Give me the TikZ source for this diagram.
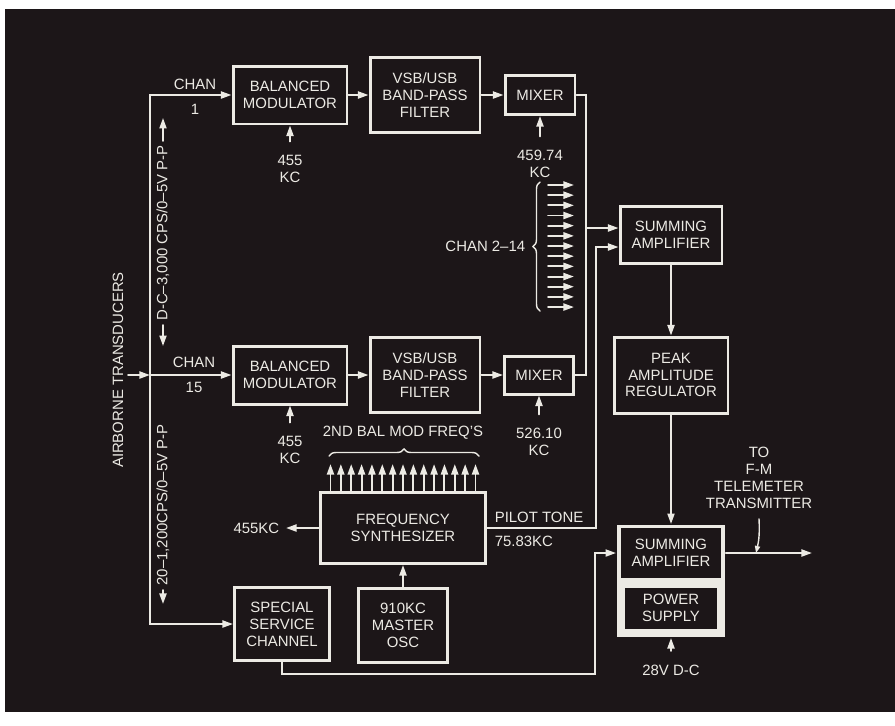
\documentclass[tikz,border=0pt]{standalone}
\usepackage{fontspec}
\setmainfont{Liberation Sans}
\usetikzlibrary{arrows.meta,decorations.pathreplacing}
\definecolor{bg}{RGB}{28,22,24}
\definecolor{ink}{RGB}{236,234,228}

\begin{document}
\begin{tikzpicture}[x=0.02cm,y=-0.02cm,>={Triangle[length=6pt,width=4pt]},
  color=ink,line width=1.1pt,line cap=round,font=\fontsize{8.5}{9.6}\selectfont,
  blk/.style={draw,line width=1.7pt,fill=bg,align=center,inner sep=0pt},
  brc/.style={decorate,decoration={brace,amplitude=4pt},line width=0.8pt},
  feed/.style={->,shorten <=4pt}]
\useasboundingbox (0,0) rectangle (895,725);
\fill[white] (0,0) rectangle (895,725);
\fill[bg] (5,9) rectangle (895,712);
\node[blk,minimum width=2.28cm,minimum height=1.16cm] (bm1) at (290,95) {BALANCED\\MODULATOR};
\node[blk,minimum width=2.2cm,minimum height=1.5cm] (bpf1) at (425,95) {VSB/USB\\BAND-PASS\\FILTER};
\node[blk,minimum width=1.4cm,minimum height=0.78cm] (mix1) at (540,95) {MIXER};
\node[blk,minimum width=2.28cm,minimum height=1.16cm] (bm15) at (290,375) {BALANCED\\MODULATOR};
\node[blk,minimum width=2.2cm,minimum height=1.5cm] (bpf15) at (425,375) {VSB/USB\\BAND-PASS\\FILTER};
\node[blk,minimum width=1.38cm,minimum height=0.76cm] (mix15) at (539,375) {MIXER};
\node[blk,minimum width=2.04cm,minimum height=1.14cm] (sum1) at (671,235) {SUMMING\\AMPLIFIER};
\node[blk,minimum width=2.28cm,minimum height=1.52cm] (par) at (671,375) {PEAK\\AMPLITUDE\\REGULATOR};
\node[blk,minimum width=3.3cm,minimum height=1.42cm] (fs) at (403,528) {FREQUENCY\\SYNTHESIZER};
\node[blk,minimum width=1.9cm,minimum height=1.46cm] (ssc) at (282,624) {SPECIAL\\SERVICE\\CHANNEL};
\node[blk,minimum width=1.78cm,minimum height=1.48cm] (osc) at (403,625) {910KC\\MASTER\\OSC};
\node[fill=ink,minimum width=2.16cm,minimum height=2.24cm,inner sep=0pt] (sum2) at (671,581) {};
\node[fill=bg,align=center,minimum width=2cm,minimum height=1cm,inner sep=0pt] (sa2) at (671,553) {SUMMING\\AMPLIFIER};
\node[fill=bg,align=center,minimum width=1.84cm,minimum height=0.82cm,inner sep=0pt] (ps) at (671,608) {POWER\\SUPPLY};
\node (c1a) at (195,84) {CHAN};
\node (c1b) at (195,109) {1};
\node (c15a) at (194,362) {CHAN};
\node (c15b) at (194,387) {15};
\node[align=center] (k1) at (290,169) {455\\KC};
\node[align=center] (k15) at (290,450) {455\\KC};
\node[align=center] (f1) at (540,164) {459.74\\KC};
\node[align=center] (f15) at (539,442) {526.10\\KC};
\node[anchor=east] (c214) at (532,246) {CHAN 2--14};
\node (bmf) at (403,433) {2ND BAL MOD FREQ'S};
\node[anchor=east] (k455) at (286,528) {455KC};
\node[anchor=west] (pt) at (488,517) {PILOT TONE};
\node[anchor=west] (pf) at (488,541) {75.83KC};
\node[align=center] (tel) at (759,478) {TO\\F-M\\TELEMETER\\TRANSMITTER};
\node (v28) at (671,670) {28V D-C};
\node[rotate=90] (ab) at (118,370) {AIRBORNE TRANSDUCERS};
\node[rotate=90,inner sep=2pt] (dc) at (163,233) {D-C--3,000 CPS/0--5V P-P};
\node[rotate=90,inner sep=2pt] (ac) at (163,505) {20--1,200CPS/0--5V P-P};
\coordinate (src) at (128,375);
\coordinate (bus) at (150,375);
\coordinate (jn) at (586,228);
\coordinate (pj) at (596,247);
\coordinate (sj) at (595,674);
\coordinate (out) at (812,553);
\draw[->] (src) -- (bus);
\draw[->] (bus) -- (bm15);
\draw[->] (bus) |- (bm1);
\draw[->] (bus) |- (ssc);
\draw[->] (dc.east) -- ++(0,-23);
\draw[->] (dc.west) -- ++(0,21);
\draw[->] (ac.west) -- ++(0,14);
\draw[->] (bm1) -- (bpf1);
\draw[->] (bpf1) -- (mix1);
\draw[->] (bm15) -- (bpf15);
\draw[->] (bpf15) -- (mix15);
\draw[feed] (k1) -- (bm1);
\draw[feed] (k15) -- (bm15);
\draw[feed] (f1) -- (mix1);
\draw[feed] (f15) -- (mix15);
\draw (mix1) -| (jn);
\draw (mix15) -| (jn);
\draw[->] (jn) -- (jn -| sum1.west);
\foreach \i in {0,...,12}
  \draw[->] (548,{185+\i*10.17}) -- (574,{185+\i*10.17});
\draw[brc] (540,311) -- (540,182);
\draw[->] (fs) -| (pj) -- (pj -| sum1.west);
\foreach \i in {0,...,14}
  \draw[->] (fs.north) ++({(\i-7)*10.36},0) -- ++(0,-27);
\draw[brc] (329,456) -- (479,456);
\draw[->] (fs) -- (k455);
\draw[->] (osc) -- (fs);
\draw[->] (ssc) |- (sj) |- (sa2 -| sum2.west);
\draw[->] (sum1) -- (par);
\draw[->] (par) -- (sum2);
\draw[->] (sa2 -| sum2.east) -- (out);
\draw[-{Triangle[length=4pt,width=3pt]},line width=0.8pt] ([yshift=-2pt]tel.south) to[bend left=8] (756,553);
\draw[feed] (v28) -- (sum2);
\end{tikzpicture}
\end{document}
